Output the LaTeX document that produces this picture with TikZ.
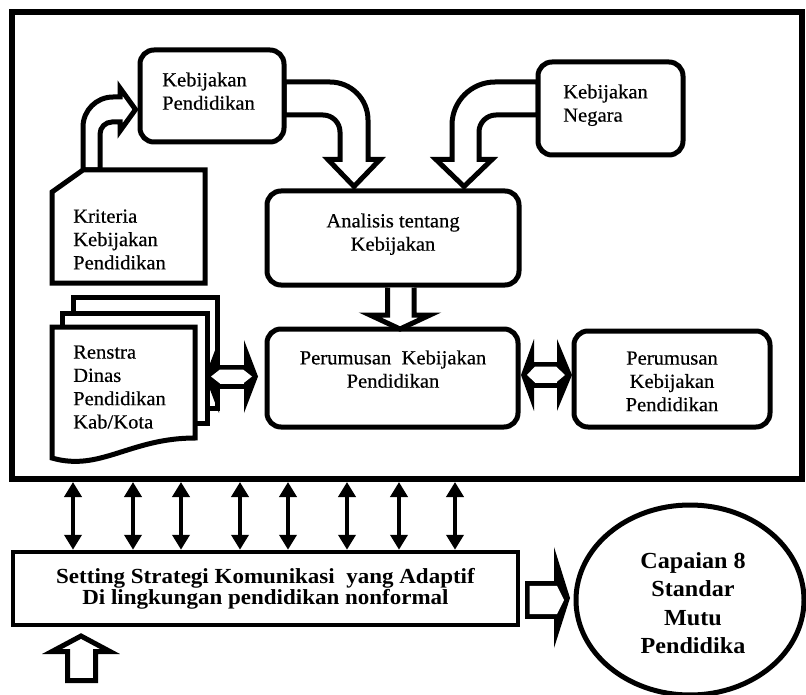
\documentclass[tikz,border=0pt]{standalone}
\usepackage{fontspec}
\setmainfont{Liberation Serif}[FakeStretch=1.03, FakeBold=0.4]
\newfontfamily\stratfont{Liberation Serif}[FakeStretch=1.07]
\newfontfamily\goalfont{Liberation Serif}[FakeStretch=1.05]
\usetikzlibrary{arrows.meta,shapes.geometric}

\tikzset{
  outline/.style={draw, line width=5pt, fill=white, line join=miter},
  rbox/.style={outline, rounded corners=14pt, inner sep=0pt},
  plaintext/.style={inner sep=0pt, font=\fontsize{20pt}{23.3pt}\selectfont},
  boldlabel/.style={inner sep=0pt, align=center, anchor=north},
  vlink/.style={line width=4pt, {Triangle[width=17pt,length=15pt]}-{Triangle[width=17pt,length=15pt]}},
}

\begin{document}
\begin{tikzpicture}[x=1pt, y=-1pt]
\useasboundingbox (0,0) rectangle (806,695);

% outer frame around the policy analysis part
\node[draw, line width=6pt, minimum width=790pt, minimum height=467pt, inner sep=0pt] (frame) at (407,245.5) {};

% curved block arrows
\draw[outline] (83,170) -- (83,127) .. controls (83,110.4) and (96.4,97) .. (113,97)
  -- (120,97) -- (120,88) -- (135.5,109.5) -- (120,131) -- (120,122) -- (112,122)
  .. controls (105.4,122) and (100,127.4) .. (100,134) -- (100,170) -- cycle;
\draw[outline] (284,82) -- (330,82) .. controls (351,82) and (368,99) .. (368,120)
  -- (368,159.5) -- (380,159.5) -- (354,186.5) -- (328,159.5) -- (340,159.5) -- (340,132)
  .. controls (340,122.6) and (332.4,115) .. (323,115) -- (284,115) -- cycle;
\draw[outline] (538,82) -- (495,82) .. controls (471.3,82) and (452,101.3) .. (452,125)
  -- (452,159.5) -- (436,159.5) -- (464,186.5) -- (492,159.5) -- (479,159.5) -- (479,132)
  .. controls (479,122.6) and (486.6,115) .. (496,115) -- (538,115) -- cycle;

% rounded boxes
\node[rbox, minimum width=144pt, minimum height=92pt] (kp) at (212,96) {};
\node[rbox, minimum width=145pt, minimum height=93pt] (kn) at (610.5,108.5) {};
\node[rbox, minimum width=252pt, minimum height=94pt] (an) at (393,238) {};
\node[rbox, minimum width=251pt, minimum height=98pt] (pk) at (392.5,378) {};
\node[rbox, minimum width=196pt, minimum height=96pt] (pk2) at (672,379) {};

% card with a cut corner
\draw[outline] (83,170) -- (205,170) -- (205,283) -- (52,283) -- (52,192) -- cycle;

% stack of documents
\draw[outline] (73,297) rectangle (217,408);
\draw[outline] (62,313) rectangle (207,423);
\draw[outline] (52,327) -- (195,327) -- (195,438) .. controls (130,438) and (100,472) .. (52,458) -- cycle;

% texts
\node[plaintext, anchor=north west, align=left] (kp-t) at (162,72.3) {Kebijakan\\Pendidikan};
\node[plaintext, anchor=north west, align=left] (kn-t) at (563,84.3) {Kebijakan\\Negara};
\node[plaintext, anchor=north west, align=left] (kr-t) at (73,209.3) {Kriteria\\Kebijakan\\Pendidikan};
\node[plaintext, anchor=north, align=center] (an-t) at (393,213.3) {Analisis tentang\\Kebijakan};
\node[plaintext, anchor=north, align=center] (pk-t) at (393,350.3) {Perumusan\ \ Kebijakan\\Pendidikan};
\node[plaintext, anchor=north, align=center] (pk2-t) at (672,351.3) {Perumusan\\Kebijakan\\Pendidikan};
\node[plaintext, anchor=north west, align=left] (rs-t) at (73,345.3) {Renstra\\Dinas\\Pendidikan\\Kab/Kota};

% arrow from analysis down to formulation
\draw[outline] (387.5,287.5) -- (387.5,315) -- (370,315) -- (400,329) -- (430,315) -- (414,315) -- (414,287.5);

% double block arrows
\draw[outline] (217,367) rectangle (246,386);
\fill (205,376.5) -- (219,340) -- (219,413) -- cycle;
\fill (258,376.5) -- (244,340) -- (244,413) -- cycle;
\fill[white] (211,376.5) -- (220,369.5) -- (243,369.5) -- (252,376.5) -- (243,383.5) -- (220,383.5) -- cycle;

\draw[outline] (532,364) rectangle (559,385);
\fill (521,375) -- (534,339) -- (534,411) -- cycle;
\fill (572,375) -- (557,339) -- (557,411) -- cycle;
\fill[white] (527,375) -- (535,366.5) -- (556,366.5) -- (565,375) -- (556,382.5) -- (535,382.5) -- cycle;

% strategy box and goal
\node[draw, line width=4.5pt, fill=white, minimum width=505pt, minimum height=73pt, inner sep=0pt] (set) at (265.5,588.5) {};
\node[boldlabel, font=\stratfont\bfseries\fontsize{21.5pt}{18.8pt}\selectfont] (set-t) at (265.5,568.5)
  {Setting Strategi Komunikasi\ \ yang Adaptif\\Di lingkungan pendidikan nonformal};

\node[ellipse, draw, line width=5pt, minimum width=228pt, minimum height=190pt, inner sep=0pt] (goal) at (690,600) {};
\node[boldlabel, font=\goalfont\bfseries\fontsize{23pt}{28.5pt}\selectfont] (goal-t) at (693,552.3)
  {Capaian 8\\Standar\\Mutu\\Pendidika};

% arrow into the goal
\draw[outline] (527,583.3) rectangle (556,616.7);
\fill (554,547) -- (570,598) -- (554,648) -- cycle;
\fill[white] (529.5,585.8) -- (557,585.8) -- (564,600) -- (557,614.2) -- (529.5,614.2) -- cycle;

% input arrow under the strategy box
\draw[outline] (67.5,680.5) -- (67.5,651.5) -- (52,651.5) -- (81,636) -- (110,651.5) -- (95.5,651.5) -- (95.5,680.5) -- cycle;

% two-way links between the frame and the strategy box
\foreach \xx in {73,133,181,240,288,347,399,455}
  \draw[vlink] (frame.south -| \xx,0) -- (set.north -| \xx,0);
\end{tikzpicture}
\end{document}
